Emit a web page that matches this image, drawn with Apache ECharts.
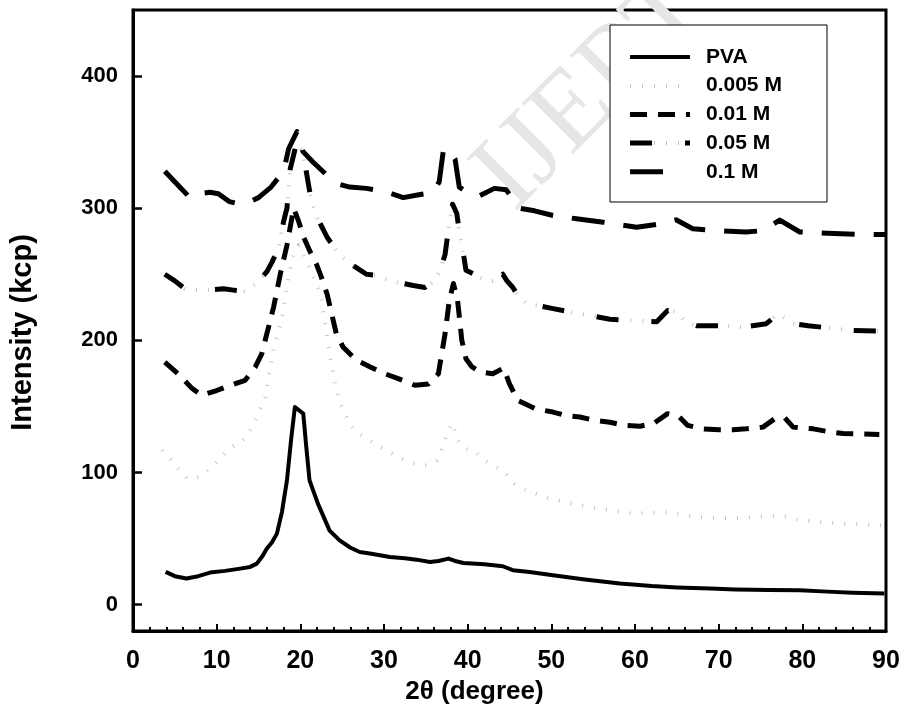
<!DOCTYPE html>
<html><head><meta charset="utf-8">
<script src="https://cdn.jsdelivr.net/npm/echarts@6/dist/echarts.min.js"></script>
<style>html,body{margin:0;padding:0;background:#fff}#c{width:907px;height:725px}</style>
</head><body><div id="c"></div>
<script>
// ---- data ----
const seriesNames = ['PVA', '0.005 M', '0.01 M', '0.05 M', '0.1 M'];
const yTickValues = [0, 100, 200, 300, 400];

const pvaX = [3.9, 5, 6.4, 7.8, 9.2, 11, 12.8, 14, 14.8, 15.5, 16, 16.6, 17.2, 17.8, 18.4, 18.9, 19.35, 20.35, 20.7, 21.1, 22.1, 23.5, 24.7, 26, 27.1, 28.5, 30.7, 32.5, 33.9, 35.5, 36.5, 37.7, 38.5, 39.5, 42, 44.2, 45.4, 47.4, 50.2, 54, 58.2, 62, 65, 69, 72, 76, 79.7, 83, 86, 89.8];
const pvaY = [24.7, 21.5, 19.7, 21.5, 24.2, 25.5, 27.2, 28.5, 31, 37, 42.4, 47, 53.7, 70, 94, 125, 149.5, 144.5, 120, 94, 76.4, 56, 48.6, 43, 39.8, 38.5, 36, 35, 34, 32.2, 33, 34.8, 33, 31.5, 30.5, 29, 26, 24.7, 22.2, 19, 15.9, 14, 13, 12.1, 11.5, 11, 10.8, 9.8, 9, 8.3];

const m0005X = [3.5, 4.5, 5.4, 6.5, 8, 9.2, 10.4, 11.4, 12.6, 13.6, 14.8, 15.3, 15.8, 16.2, 16.8, 17.8, 18.4, 19, 19.8, 20.6, 21.4, 22.4, 23.5, 24.1, 24.7, 25.7, 26.5, 27.9, 29.3, 30.7, 32.1, 33.7, 35.1, 36.3, 36.8, 37.2, 37.6, 38.2, 38.8, 39.7, 41, 42, 43.4, 44.6, 45.6, 47, 49.8, 52.6, 55.8, 59.8, 64.2, 67, 70, 73, 76.9, 78, 79.7, 83, 86, 89.4];
const m0005Y = [117, 110, 103, 95.3, 96.5, 103, 110, 117.5, 122, 127, 142, 150, 157, 172, 194, 216, 240, 262, 272, 262, 250, 236, 190, 168, 153, 139.4, 131.8, 125.6, 120.5, 115.4, 110.4, 106.7, 105.4, 109, 115.4, 123, 130.6, 137.4, 124.3, 118, 115.4, 109, 104, 99, 91.5, 86.5, 80.2, 76.4, 72.6, 68.8, 70, 66.3, 65.5, 65.5, 67.5, 66.5, 63.8, 62, 61, 60];

const m001X = [3.8, 5.6, 7, 8.2, 10, 11.6, 13.4, 14.6, 15.4, 16, 16.8, 17.6, 18.4, 19.2, 19.8, 20.4, 21.1, 21.9, 22.5, 23.2, 24.3, 25.1, 26.7, 28.3, 30.1, 31.7, 33.7, 35.3, 36.5, 37.3, 37.8, 38.3, 38.8, 39.3, 39.8, 40.5, 41.5, 43, 44.3, 45, 46, 48.2, 50.2, 51.8, 53.4, 55.2, 57, 58.8, 60.6, 62.2, 63.9, 65.3, 66.3, 68.1, 70.1, 71.7, 73.3, 75.3, 76.7, 77.9, 78.9, 81.3, 83.3, 84.9, 89.2];
const m001Y = [183.5, 173.4, 164, 158.3, 162, 165.9, 169.7, 179.7, 190, 205, 225, 250, 272, 300, 290, 278, 268, 258, 248, 235, 205, 195, 185, 180, 174.7, 171, 166, 167, 174.7, 205, 230, 243, 230, 200, 186, 180, 176, 174.7, 179, 167, 154.5, 148, 145.7, 143, 142, 139.4, 138, 135.6, 135, 137, 144.5, 142, 135.6, 133, 132.4, 132.4, 133, 134.3, 140.7, 141.4, 134.3, 133, 130.6, 129.4, 128.8];

const m005X = [3.8, 5, 6.2, 7.5, 9, 10.8, 12, 13.4, 14.9, 16, 16.6, 17.4, 18, 18.4, 18.8, 19.5, 20.3, 20.7, 21.3, 22.1, 23.2, 24.3, 25.5, 26.7, 27.9, 29.3, 30.7, 33.5, 34.9, 36.1, 36.7, 37.3, 37.7, 38.2, 38.7, 39.1, 39.4, 39.8, 40.8, 41.9, 43, 44.2, 44.7, 45.4, 46, 47, 50.2, 52.6, 54.4, 57, 59.8, 62.6, 63.9, 65.1, 66, 67.4, 70.1, 72.9, 75.7, 77.1, 78.9, 80.7, 83.7, 86, 89.2];
const m005Y = [250, 245, 239, 238, 238, 239, 238, 237, 244, 252, 259, 270, 290, 300, 330, 348, 343, 328, 306, 292, 278, 268, 260, 255, 250, 249, 245, 241.5, 240, 245, 253, 265, 284, 303, 296, 278, 269, 253, 250, 246, 245, 250, 245, 240, 234, 228, 224, 221, 219, 216, 215, 214, 222.6, 221.3, 214, 211, 211, 210, 212.6, 220, 212.6, 211, 209, 207.5, 207];

const m01X = [3.8, 5.3, 6.8, 8, 9.2, 10.2, 11.5, 12.8, 14, 15, 16.5, 18, 18.6, 19.6, 20.3, 21.5, 23.5, 24.7, 25.9, 27.9, 29.9, 32.3, 34, 35.9, 36.6, 37.1, 37.7, 38.5, 39, 40, 41.3, 43.2, 44.6, 46.2, 48, 50.2, 53, 56.2, 60.2, 62.6, 64.9, 66.9, 70, 73.3, 75.3, 77.3, 79.7, 83, 87.3, 90];
const m01Y = [328, 318, 308, 311, 312, 311, 305, 303, 305, 308, 316, 328, 345, 358, 343, 335, 323, 318, 316, 315, 313, 308, 310, 312, 320, 344, 345, 337, 316, 312, 309, 315, 314, 300, 298, 294.5, 292, 289.4, 285.6, 287.7, 291.2, 284.4, 283, 282, 283, 291, 282, 281, 280, 280];

// ---- styles ----
const zip = (xs, ys) => xs.map((x, i) => [x, ys[i]]);
const FONT = "'Liberation Sans', Arial, Helvetica, sans-serif";
const GRAY = '#c4c4c4';
const styles = {
  'PVA':     { main: { width: 4, type: 'solid' } },
  '0.005 M': { main: { width: 4, type: [1, 11], color: GRAY } },
  '0.01 M':  { main: { width: 5, type: [17, 11] } },
  '0.05 M':  { under: { width: 4, type: [1, 11], color: GRAY }, main: { width: 5, type: [22, 33] } },
  '0.1 M':   { main: { width: 5, type: [33, 19] }, legendDash: [33, 40] }
};
const seriesData = {
  'PVA': zip(pvaX, pvaY),
  '0.005 M': zip(m0005X, m0005Y),
  '0.01 M': zip(m001X, m001Y),
  '0.05 M': zip(m005X, m005Y),
  '0.1 M': zip(m01X, m01Y)
};

function lineSeries(name, data, style, z) {
  return { name, type: 'line', data, symbol: 'none', smooth: false, z: z,
    lineStyle: Object.assign({ color: '#000', cap: 'butt', join: 'round' }, style),
    itemStyle: { color: style.color || '#000' }, emphasis: { disabled: true }, animation: false };
}

const series = [];
seriesNames.forEach(n => {
  const st = styles[n];
  if (st.under) series.push(lineSeries(n + ' (dots)', seriesData[n], st.under, 2));
  series.push(lineSeries(n, seriesData[n], st.main, st.main.color ? 2 : 4));
});

// legend drawn as graphic: box + sample lines + labels
const LG = { x: 610, y: 25, w: 217, h: 177, lineX0: 630, lineX1: 690, textX: 706, firstY: 57, step: 28.7 };
const graphics = [
  { type: 'text', z: 0, left: 455, top: -45, rotation: Math.PI / 4, silent: true,
    style: { text: 'IJERT', font: "110px 'Liberation Serif', 'DejaVu Serif', serif", fill: '#e6e6e6' } },
  { type: 'rect', z: 50, shape: { x: LG.x, y: LG.y, width: LG.w, height: LG.h }, silent: true,
    style: { fill: '#fff', stroke: '#000', lineWidth: 1 } }
];
seriesNames.forEach((n, i) => {
  const st = styles[n];
  const yy = LG.firstY + i * LG.step;
  const mk = (s, dash) => ({ type: 'line', z: 51, silent: true,
    shape: { x1: LG.lineX0, y1: yy, x2: LG.lineX1, y2: yy },
    style: { stroke: s.color || '#000', lineWidth: s.width, lineCap: 'butt',
      lineDash: Array.isArray(dash) ? dash : null } });
  if (st.under) graphics.push(mk(st.under, st.under.type));
  graphics.push(mk(st.main, st.legendDash || st.main.type));
  graphics.push({ type: 'text', z: 52, silent: true, x: LG.textX, y: yy,
    style: { text: n, font: "bold 21px " + FONT, fill: '#000', verticalAlign: 'middle', align: 'left' } });
});

const chart = echarts.init(document.getElementById('c'), null, { renderer: 'canvas' });
chart.setOption({
  animation: false,
  backgroundColor: '#fff',
  grid: { left: 133, right: 21, top: 10, bottom: 94, show: true, borderColor: '#000', borderWidth: 3, backgroundColor: 'transparent' },
  xAxis: {
    type: 'value', min: 0, max: 90, interval: 10,
    name: '2\u03b8 (degree)', nameLocation: 'middle', nameGap: 34,
    nameTextStyle: { fontFamily: FONT, fontWeight: 'bold', fontSize: 26, color: '#000', verticalAlign: 'top', padding: [0, 70, 0, 0] },
    axisLine: { show: true, onZero: false, lineStyle: { color: '#000', width: 3 } },
    axisTick: { show: true, inside: true, length: 7, lineStyle: { color: '#000', width: 2 } },
    minorTick: { show: true, splitNumber: 5, length: 4, lineStyle: { color: '#000', width: 2 } },
    axisLabel: { fontFamily: FONT, fontWeight: 'bold', fontSize: 25, color: '#000', margin: 18 },
    splitLine: { show: false }
  },
  yAxis: {
    type: 'value', min: -20, max: 450,
    name: 'Intensity (kcp)', nameLocation: 'middle', nameGap: 96, nameRotate: 90,
    nameTextStyle: { fontFamily: FONT, fontWeight: 'bold', fontSize: 29, color: '#000', padding: [0, 24, 0, 0] },
    axisLine: { show: true, onZero: false, lineStyle: { color: '#000', width: 3 } },
    axisTick: { show: true, inside: true, length: 9, customValues: yTickValues, lineStyle: { color: '#000', width: 2.5 } },
    axisLabel: { fontFamily: FONT, fontWeight: 'bold', fontSize: 22, color: '#000', margin: 15, customValues: yTickValues },
    splitLine: { show: false }
  },
  graphic: graphics,
  series: series
});
</script>
</body></html>
